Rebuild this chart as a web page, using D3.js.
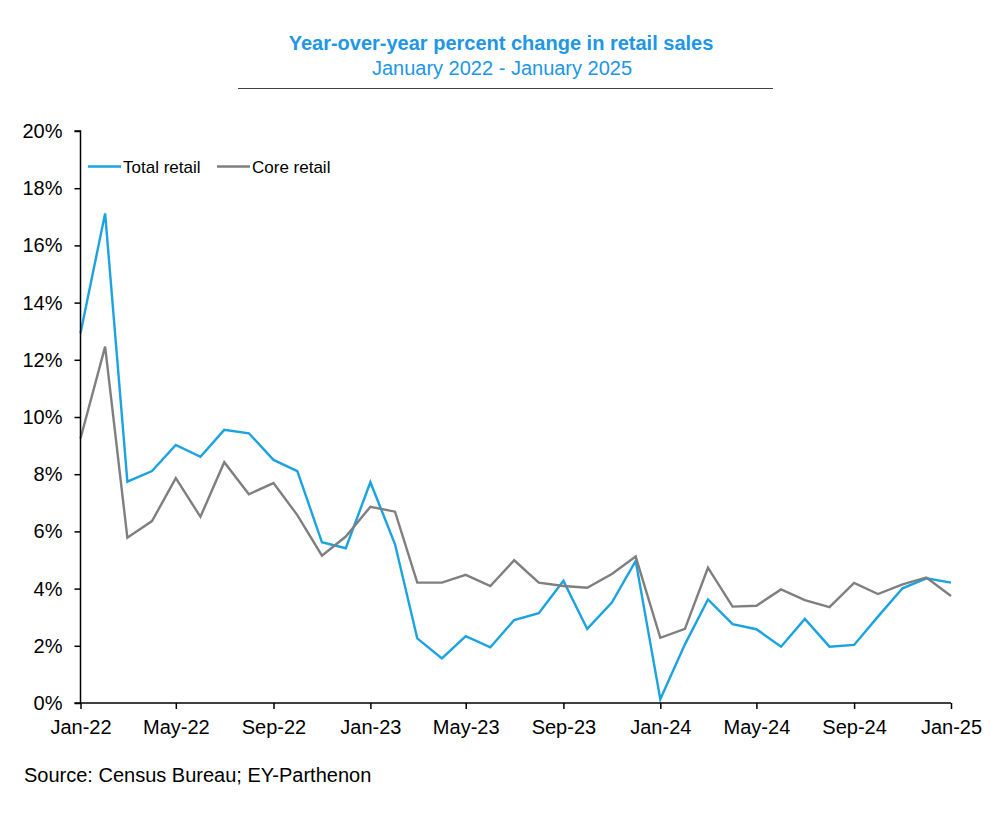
<!DOCTYPE html>
<html>
<head>
<meta charset="utf-8">
<script src="https://cdn.jsdelivr.net/npm/d3@7"></script>
<style>
  body { margin: 0; background: #fff; }
  svg { display: block; font-family: "Liberation Sans", Arial, sans-serif; }
</style>
</head>
<body>
<svg id="chart" width="1000" height="820"></svg>
<script>
const startMonth = "2022-01";
const totalRetail = [12.93, 17.12, 7.74, 8.11, 9.02, 8.61, 9.55, 9.43, 8.50, 8.11, 5.62, 5.41,
  7.72, 5.55, 2.26, 1.56, 2.34, 1.95, 2.90, 3.14, 4.27, 2.59, 3.51, 4.97,
  0.13, 2.05, 3.62, 2.76, 2.58, 1.97, 2.94, 1.97, 2.03, 3.02, 4.01, 4.36, 4.21];
const coreRetail = [9.25, 12.46, 5.78, 6.36, 7.86, 6.51, 8.42, 7.30, 7.69, 6.57, 5.15, 5.82,
  6.86, 6.69, 4.21, 4.21, 4.48, 4.09, 4.99, 4.21, 4.09, 4.03, 4.51, 5.12,
  2.28, 2.59, 4.73, 3.37, 3.40, 3.97, 3.60, 3.35, 4.20, 3.81, 4.15, 4.39, 3.74];
const yTicks = [0, 2, 4, 6, 8, 10, 12, 14, 16, 18, 20];
const xTickLabels = ["Jan-22","May-22","Sep-22","Jan-23","May-23","Sep-23","Jan-24","May-24","Sep-24","Jan-25"];
const seriesNames = ["Total retail", "Core retail"];
const seriesColors = ["#1AA3E0", "#7F7F7F"];

const parseMonth = d3.timeParse("%Y-%m");
const start = parseMonth(startMonth);
const dates = totalRetail.map((_, i) => d3.timeMonth.offset(start, i));
const parseTick = d3.timeParse("%b-%y");
const xTickDates = xTickLabels.map(parseTick);

const svg = d3.select("#chart");
const mLeft = 80.5, mRight = 951, mTop = 131, mBottom = 703;

const x = d3.scaleTime().domain([dates[0], dates[dates.length - 1]]).range([mLeft, mRight]);
const y = d3.scaleLinear().domain([0, 20]).range([mBottom, mTop]);

// Title
svg.append("text").attr("x", 501).attr("y", 50).attr("text-anchor", "middle")
  .attr("font-size", 20).attr("font-weight", "bold").attr("fill", "#2196E6")
  .text("Year-over-year percent change in retail sales");
svg.append("text").attr("x", 502).attr("y", 75).attr("text-anchor", "middle")
  .attr("font-size", 20).attr("fill", "#2196E6")
  .text("January 2022 - January 2025");
svg.append("line").attr("x1", 238).attr("x2", 773).attr("y1", 88.5).attr("y2", 88.5)
  .attr("stroke", "#404040").attr("stroke-width", 1.2);

// Lines
const series = [totalRetail, coreRetail];
const line = d3.line().x((d, i) => x(dates[i])).y(d => y(d));
series.forEach((s, k) => {
  svg.append("path").datum(s).attr("d", line).attr("fill", "none")
    .attr("stroke", seriesColors[k]).attr("stroke-width", 2.4).attr("stroke-linejoin", "miter");
});

// Y axis
const yAxis = d3.axisLeft(y).tickValues(yTicks).tickSize(6).tickPadding(12).tickFormat(d => d + "%");
const gy = svg.append("g").attr("transform", `translate(${mLeft},0)`).call(yAxis);
gy.select(".domain").attr("stroke", "#000").attr("stroke-width", 1.5).attr("d", `M-6,${mTop}H0V${mBottom}H-6`);
gy.selectAll(".tick line").attr("stroke", "#000").attr("stroke-width", 1.5);
gy.selectAll(".tick text").attr("font-size", 20).attr("fill", "#000")
  .attr("font-family", "'Liberation Sans', Arial, sans-serif");

// X axis
const xAxis = d3.axisBottom(x).tickValues(xTickDates).tickSize(6).tickPadding(11).tickFormat(d3.timeFormat("%b-%y"));
const gx = svg.append("g").attr("transform", `translate(0,${mBottom})`).call(xAxis);
gx.select(".domain").attr("stroke", "#000").attr("stroke-width", 1.5).attr("d", `M${mLeft},0H${mRight}`);
gx.selectAll(".tick line").attr("stroke", "#000").attr("stroke-width", 1.5);
gx.selectAll(".tick text").attr("font-size", 20).attr("fill", "#000")
  .attr("font-family", "'Liberation Sans', Arial, sans-serif");

// Legend
const legendItems = [{x: 88, tx: 123}, {x: 217, tx: 252}];
seriesNames.forEach((name, k) => {
  svg.append("line").attr("x1", legendItems[k].x).attr("x2", legendItems[k].x + 33)
    .attr("y1", 166.5).attr("y2", 166.5).attr("stroke", seriesColors[k]).attr("stroke-width", 2.4);
  svg.append("text").attr("x", legendItems[k].tx).attr("y", 172.5).attr("font-size", 17)
    .attr("fill", "#000").text(name);
});

// Source
svg.append("text").attr("x", 24).attr("y", 782).attr("font-size", 20).attr("fill", "#000")
  .text("Source: Census Bureau; EY-Parthenon");
</script>
</body>
</html>
